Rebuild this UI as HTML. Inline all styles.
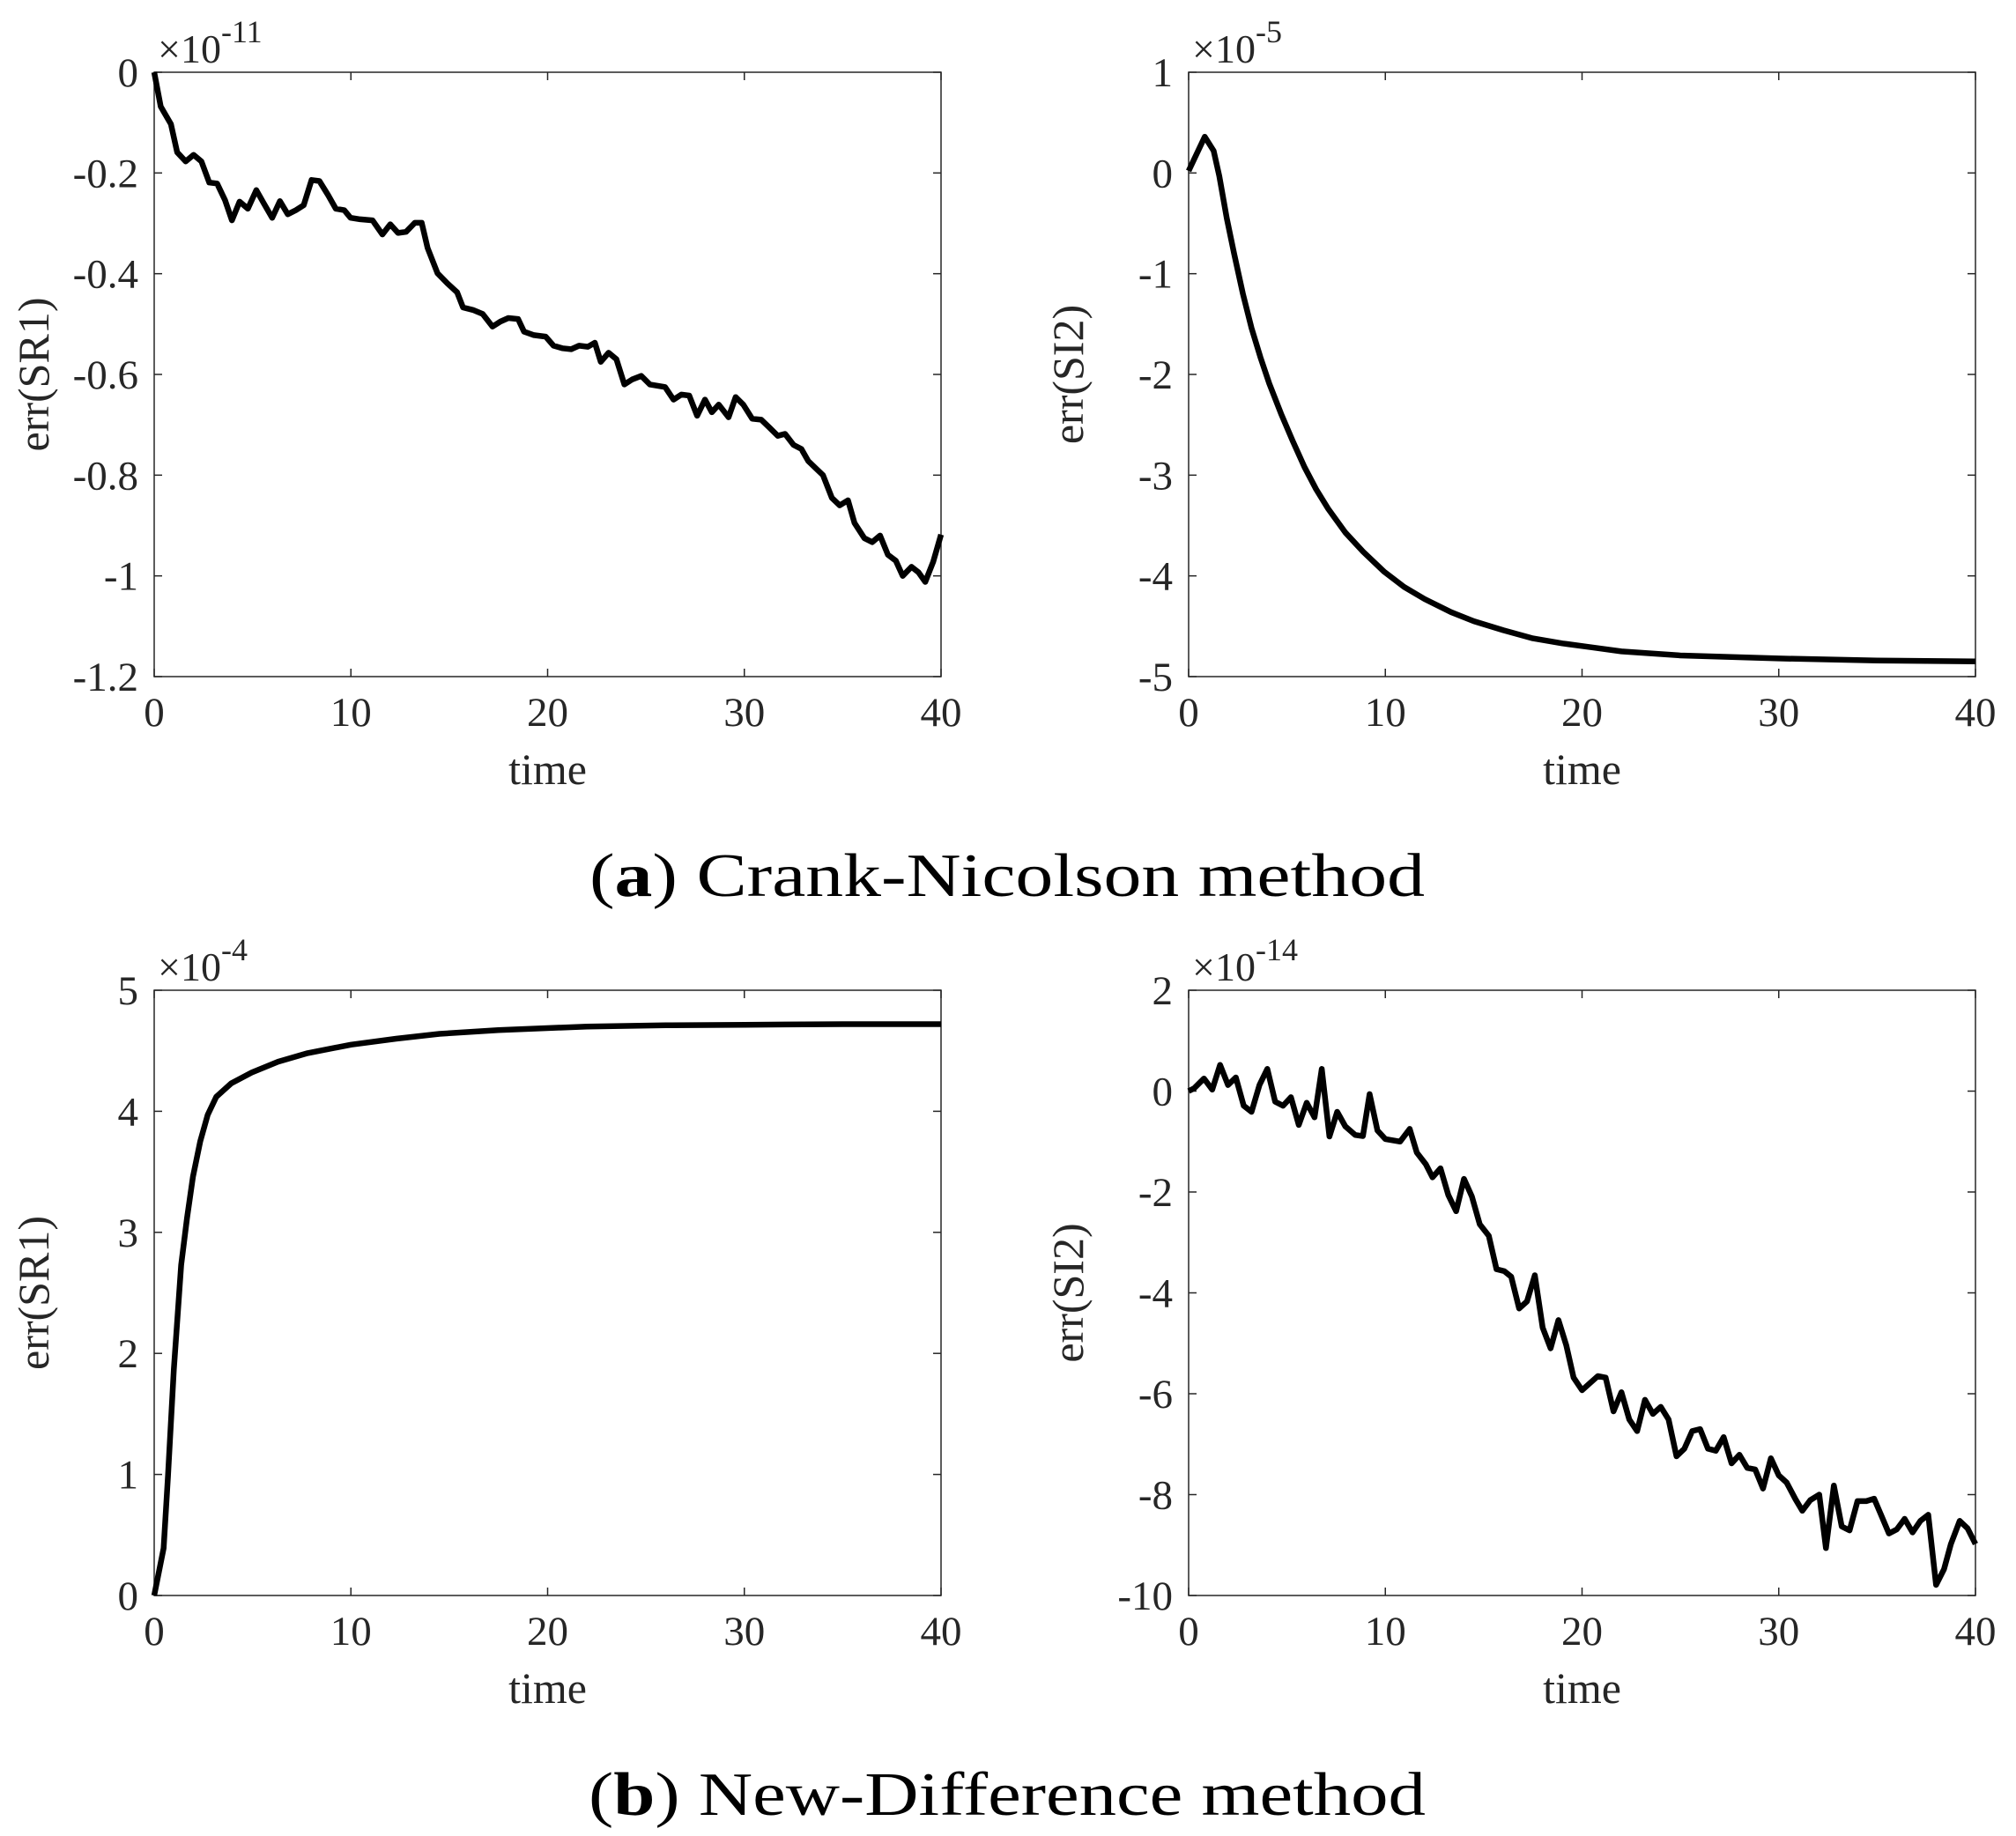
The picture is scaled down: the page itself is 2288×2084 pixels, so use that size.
<!DOCTYPE html>
<html><head><meta charset="utf-8"><style>
html,body{margin:0;padding:0;background:#fff;}
svg text{font-family:"Liberation Serif",serif;fill:#262626;}
</style></head><body>
<svg id="fig" width="2288" height="2079" viewBox="0 0 2288 2079" xmlns="http://www.w3.org/2000/svg">
<rect width="2288" height="2079" fill="#fff"/>
<text x="1143" y="1017" text-anchor="middle" font-size="70" textLength="948" lengthAdjust="spacingAndGlyphs" style="fill:#000">(<tspan font-weight="bold">a</tspan>) Crank-Nicolson method</text>
<text x="1143" y="2060" text-anchor="middle" font-size="70" textLength="950" lengthAdjust="spacingAndGlyphs" style="fill:#000">(<tspan font-weight="bold">b</tspan>) New-Difference method</text>
</svg>
<script>
const aLeftT=[0,0.33,0.85,1.17,1.6,2.0,2.4,2.8,3.2,3.6,3.95,4.34,4.76,5.19,5.58,6.0,6.39,6.79,7.2,7.6,8.0,8.4,8.84,9.23,9.66,9.98,10.47,11.1,11.6,12.0,12.4,12.8,13.25,13.6,13.9,14.4,14.9,15.4,15.7,16.2,16.7,17.2,17.6,18.0,18.5,18.8,19.3,19.9,20.3,20.75,21.2,21.6,22.05,22.4,22.7,23.1,23.5,23.9,24.3,24.76,25.2,25.97,26.4,26.8,27.2,27.6,28.0,28.35,28.7,29.2,29.56,29.95,30.4,30.86,31.26,31.7,32.07,32.5,32.9,33.25,33.6,34.0,34.45,34.85,35.27,35.6,36.1,36.5,36.9,37.3,37.7,38.05,38.5,38.86,39.2,39.6,40];
const aLeftV=[0,-0.068,-0.103,-0.159,-0.177,-0.164,-0.177,-0.219,-0.221,-0.254,-0.294,-0.257,-0.271,-0.234,-0.261,-0.289,-0.256,-0.282,-0.274,-0.264,-0.214,-0.216,-0.244,-0.271,-0.274,-0.289,-0.292,-0.294,-0.322,-0.302,-0.319,-0.317,-0.299,-0.299,-0.349,-0.399,-0.419,-0.437,-0.467,-0.472,-0.48,-0.505,-0.495,-0.488,-0.49,-0.515,-0.522,-0.525,-0.543,-0.548,-0.55,-0.543,-0.545,-0.537,-0.575,-0.557,-0.57,-0.62,-0.61,-0.603,-0.62,-0.625,-0.65,-0.64,-0.642,-0.682,-0.65,-0.675,-0.66,-0.685,-0.645,-0.66,-0.688,-0.69,-0.705,-0.722,-0.718,-0.74,-0.748,-0.772,-0.785,-0.8,-0.845,-0.86,-0.85,-0.895,-0.925,-0.933,-0.92,-0.958,-0.97,-1.0,-0.982,-0.993,-1.012,-0.972,-0.918];
const aRightT=[0,0.82,1.27,1.56,1.94,2.31,2.76,3.2,3.65,4.1,4.7,5.29,5.89,6.48,7.08,7.97,8.87,9.95,10.95,12.0,13.34,14.5,16.0,17.5,19.0,20.5,22.0,25,30,35,40];
const aRightV=[0.02,0.36,0.22,-0.03,-0.45,-0.8,-1.2,-1.54,-1.83,-2.09,-2.39,-2.66,-2.92,-3.14,-3.33,-3.57,-3.76,-3.96,-4.11,-4.23,-4.36,-4.45,-4.54,-4.62,-4.67,-4.71,-4.75,-4.79,-4.82,-4.84,-4.85];
const bLeftT=[0,0.48,0.7,1.0,1.37,1.67,1.97,2.34,2.72,3.16,3.91,4.96,6.3,7.8,10,12.3,14.5,17.5,22,26,30,35,40];
const bLeftV=[0,0.39,0.98,1.87,2.73,3.12,3.46,3.75,3.97,4.12,4.23,4.32,4.41,4.48,4.55,4.6,4.64,4.67,4.70,4.71,4.715,4.72,4.72];
const bRightT=[0,0.29,0.78,1.2,1.6,2.0,2.4,2.8,3.2,3.6,4.0,4.4,4.8,5.2,5.6,6.0,6.4,6.77,7.16,7.55,7.97,8.47,8.86,9.2,9.6,10.0,10.75,11.24,11.6,12.06,12.4,12.8,13.2,13.6,14.0,14.4,14.8,15.26,15.65,16.05,16.4,16.8,17.2,17.6,18.0,18.4,18.8,19.2,19.57,20.0,20.4,20.8,21.2,21.6,22.0,22.4,22.8,23.2,23.6,24.0,24.4,24.8,25.2,25.6,26.0,26.4,26.8,27.2,27.6,28.0,28.4,28.8,29.2,29.6,30.0,30.4,30.85,31.2,31.6,32.06,32.4,32.8,33.2,33.6,34.0,34.45,34.85,35.2,35.6,36.0,36.4,36.8,37.2,37.6,38.0,38.4,38.75,39.2,39.6,40];
const bRightV=[0,0.06,0.25,0.03,0.52,0.12,0.27,-0.29,-0.41,0.12,0.44,-0.21,-0.29,-0.12,-0.67,-0.23,-0.52,0.44,-0.9,-0.41,-0.7,-0.87,-0.89,-0.06,-0.78,-0.95,-1.0,-0.75,-1.22,-1.45,-1.71,-1.53,-2.06,-2.38,-1.74,-2.09,-2.64,-2.87,-3.53,-3.57,-3.68,-4.31,-4.17,-3.65,-4.69,-5.1,-4.54,-5.04,-5.68,-5.93,-5.79,-5.65,-5.68,-6.35,-5.97,-6.51,-6.74,-6.12,-6.4,-6.26,-6.51,-7.24,-7.09,-6.74,-6.7,-7.09,-7.13,-6.86,-7.38,-7.21,-7.47,-7.5,-7.88,-7.28,-7.62,-7.76,-8.09,-8.32,-8.11,-8.0,-9.06,-7.82,-8.63,-8.71,-8.13,-8.13,-8.08,-8.4,-8.77,-8.69,-8.48,-8.75,-8.52,-8.4,-9.79,-9.48,-8.98,-8.52,-8.67,-8.98];
const xTicks=[0,10,20,30,40];
const aLeftYTicks=[0,-0.2,-0.4,-0.6,-0.8,-1,-1.2];
const aRightYTicks=[1,0,-1,-2,-3,-4,-5];
const bLeftYTicks=[5,4,3,2,1,0];
const bRightYTicks=[2,0,-2,-4,-6,-8,-10];

const NS='http://www.w3.org/2000/svg';
const svg=document.getElementById('fig');
function mk(tag,attrs,parent){const e=document.createElementNS(NS,tag);for(const k in attrs)e.setAttribute(k,attrs[k]);(parent||svg).appendChild(e);return e;}

function panel(id,L,T,R,B,ymin,ymax,yticks,ylabel,exp,ts,vs){
  const g=mk('g',{});
  
  
  const xs=t=>L+(t-0)/(40-0)*(R-L);
  const ys=v=>B-(v-ymin)/(ymax-ymin)*(B-T);
  xTicks.forEach(t=>{
    const x=xs(t);
    mk('line',{x1:x,y1:B,x2:x,y2:B-9,stroke:'#262626','stroke-width':1.5},g);
    mk('line',{x1:x,y1:T,x2:x,y2:T+9,stroke:'#262626','stroke-width':1.5},g);
    const tx=mk('text',{x:x,y:B+56,'text-anchor':'middle','font-size':47},g);
    tx.textContent=String(t);
    
    
  });
  yticks.forEach(v=>{
    const y=ys(v);
    mk('line',{x1:L,y1:y,x2:L+9,y2:y,stroke:'#262626','stroke-width':1.5},g);
    mk('line',{x1:R,y1:y,x2:R-9,y2:y,stroke:'#262626','stroke-width':1.5},g);
    const tx=mk('text',{x:L-18,y:y+16,'text-anchor':'end','font-size':47},g);
    tx.textContent=String(v);
    
    
  });
  const box=mk('rect',{x:L,y:T,width:R-L,height:B-T,fill:'none',stroke:'#262626','stroke-width':1.5},g);
  
  
  const xl=mk('text',{x:(L+R)/2,y:B+122,'text-anchor':'middle','font-size':50},g);
  xl.textContent='time';
  
  
  const cy=(T+B)/2, cx=L-120;
  const yl=mk('text',{x:cx,y:cy,'text-anchor':'middle','font-size':50,transform:'rotate(-90 '+cx+' '+cy+')'},g);
  yl.textContent=ylabel;
  
  
  const ex=mk('text',{x:L+4,y:T-11,'font-size':46},g);
  ex.textContent='\u00d710';
  const sup=mk('tspan',{dy:-23,'font-size':36},ex);
  sup.textContent=exp;
  
  
  let d='';
  ts.forEach((t,i)=>{d+=(i?'L':'M')+xs(t).toFixed(1)+' '+ys(vs[i]).toFixed(1);});
  const p=mk('path',{d:d,fill:'none',stroke:'#000','stroke-width':6.5,'stroke-linejoin':'round'},g);
  
  
}
panel('cn-sr1',175,82,1068,768,-1.2,0,aLeftYTicks,'err(SR1)','-11',aLeftT,aLeftV);
panel('cn-si2',1349,82,2242,768,-5,1,aRightYTicks,'err(SI2)','-5',aRightT,aRightV);
panel('nd-sr1',175,1124,1068,1811,0,5,bLeftYTicks,'err(SR1)','-4',bLeftT,bLeftV);
panel('nd-si2',1349,1124,2242,1811,-10,2,bRightYTicks,'err(SI2)','-14',bRightT,bRightV);
</script>
</body></html>
